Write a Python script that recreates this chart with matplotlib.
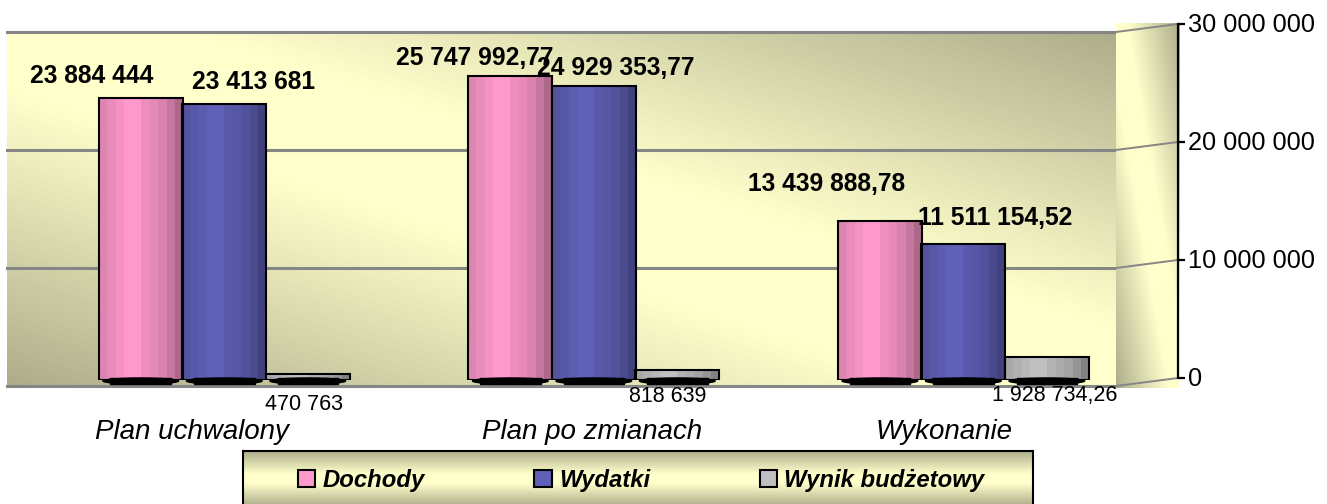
import numpy as np
import matplotlib
matplotlib.use('Agg')
import matplotlib.pyplot as plt
from matplotlib.colors import LinearSegmentedColormap, to_rgb
from matplotlib.patches import ConnectionPatch, Ellipse, Rectangle
from matplotlib.transforms import ScaledTranslation

plt.rcParams['font.family'] = ['Liberation Sans', 'DejaVu Sans']

# dane
kategorie = ['Plan uchwalony', 'Plan po zmianach', 'Wykonanie']
serie = ['Dochody', 'Wydatki', 'Wynik budżetowy']
dochody = [23884444, 25747992.77, 13439888.78]
wydatki = [23413681, 24929353.77, 11511154.52]
wynik = [470763, 818639, 1928734.26]
etykiety_dochody = ['23 884 444', '25 747 992,77', '13 439 888,78']
etykiety_wydatki = ['23 413 681', '24 929 353,77', '11 511 154,52']
etykiety_wynik = ['470 763', '818 639', '1 928 734,26']
ticks = [0, 10000000, 20000000, 30000000]
tick_labels = ['0', '10 000 000', '20 000 000', '30 000 000']

W, H = 1327, 504
kolory = ['#FF99CC', '#6060B8', '#C0C0C0']
JASNY = '#FFFFCC'
CIEMNY = '#ADAD8B'
SIATKA = '#868686'
XMIN, XMAX = -0.5879, 2.4131


def px_axes(l, t, r, b, z=1):
    return fig.add_axes([l / W, 1 - b / H, (r - l) / W, (b - t) / H], zorder=z)


def ukos(n=300):
    # tlo: ciemne w rogach lewy dol / prawy gora, jasne na przekatnej
    u, v = np.meshgrid(np.linspace(0, 1, n), np.linspace(0, 1, n))
    return np.abs(u + v - 1)


fig = plt.figure(figsize=(W / 100, H / 100), dpi=100)
cmap_tlo = LinearSegmentedColormap.from_list('tlo', [(0, JASNY), (0.17, JASNY), (1, CIEMNY)], N=256)
pt = 72 / 100
piksel = fig.dpi_scale_trans

# sciana tylna
ax_tlo = px_axes(7, 32, 1116, 386, 1)
ax_tlo.imshow(ukos(), origin='lower', cmap=cmap_tlo, aspect='auto', vmin=0, vmax=1,
              extent=[XMIN, XMAX, 0, 30000000])
ax_tlo.set_xlim(XMIN, XMAX)
ax_tlo.set_ylim(0, 30000000)
ax_tlo.set_yticks(ticks)
ax_tlo.grid(axis='y', color=SIATKA, lw=2.2)
for lin in ax_tlo.get_ygridlines():
    lin.set_clip_on(False)
ax_tlo.tick_params(length=0, labelleft=False, labelbottom=False)
for s in ax_tlo.spines.values():
    s.set_visible(False)

# sciana boczna i os
ax_bok = px_axes(1116, 23, 1180, 388, 1)
ax_bok.imshow(ukos(), origin='lower', cmap=cmap_tlo, aspect='auto', vmin=0, vmax=1)
ax_bok.axis('off')

ax_os = px_axes(1116, 24, 1178, 378, 2)
ax_os.patch.set_alpha(0)
ax_os.set_xlim(0, 1)
ax_os.set_ylim(0, 30000000)
ax_os.yaxis.tick_right()
ax_os.set_yticks(ticks)
ax_os.set_yticklabels(tick_labels, fontsize=18.3)
ax_os.tick_params(axis='y', length=5, width=1.6, pad=2.2, color='black', direction='out')
ax_os.set_xticks([])
for k in ['left', 'top', 'bottom']:
    ax_os.spines[k].set_visible(False)
ax_os.spines['right'].set_linewidth(1.6)
for lab in ax_os.get_yticklabels():
    lab.set_transform(lab.get_transform() + ScaledTranslation(0, 0.02, piksel))
for t in ticks:
    fig.add_artist(ConnectionPatch((XMAX, t), (1, t), 'data', 'data', axesA=ax_tlo, axesB=ax_os,
                                   color=SIATKA, lw=1.4, zorder=1.5))

# slupki
ax = px_axes(7, 26, 1116, 380, 3)
ax.patch.set_alpha(0)
x = np.arange(len(kategorie))
krok = 0.226
szer = 0.2275
wys_cien = 85000  # 1 px mniej wiecej
profil = np.array([0.87, 0.92, 0.96, 1.0, 1.0, 0.93, 0.9, 0.85, 0.78, 0.68])
for i, (wart, kol) in enumerate(zip([dochody, wydatki, wynik], kolory)):
    pos = x + (i - 1) * krok
    bars = ax.bar(pos, wart, szer, facecolor='none', edgecolor='black', linewidth=1.5, zorder=4)
    rgb = np.array(to_rgb(kol))
    pasy = np.clip(profil[:, None] * rgb, 0, 1)[None, :, :]
    for b in bars:
        ax.imshow(pasy, aspect='auto', interpolation='nearest', zorder=3,
                  extent=[b.get_x(), b.get_x() + b.get_width(), 0, b.get_height()])
    for p in pos:
        # czarny cien u podstawy
        ax.add_patch(Rectangle((p - szer * 0.36, -4 * wys_cien), szer * 0.72, 6 * wys_cien, color='black',
                               zorder=5, clip_on=False))
        ax.add_patch(Ellipse((p, -wys_cien), szer * 0.9, 6 * wys_cien, color='black', zorder=5, clip_on=False))

ax.set_xlim(XMIN, XMAX)
ax.set_ylim(0, 30000000)
for s in ax.spines.values():
    s.set_visible(False)
ax.set_yticks([])
ax.set_xticks(x)
ax.set_xticklabels(kategorie, fontsize=20, style='italic')
ax.tick_params(axis='x', length=0, pad=28)
przes_kat = [-32, -2, -19]
for lab, d in zip(ax.get_xticklabels(), przes_kat):
    lab.set_transform(lab.get_transform() + ScaledTranslation(d / 100, 0, piksel))

# etykiety danych
dx_doch = [-49, -36, -53]
dy_doch = [10, 6, 25]
dx_wyd = [29, 22, 32]
dy_wyd = [10, 6, 14]
dx_wyn = [-4, -10, 8]
y_wyn = [-24, -17, -15]
for i in range(3):
    ax.annotate(etykiety_dochody[i], (x[i] - krok, dochody[i]), xytext=(dx_doch[i] * pt, dy_doch[i] * pt),
                textcoords='offset points', ha='center', va='bottom', fontsize=17.7, fontweight='bold', zorder=6)
    ax.annotate(etykiety_wydatki[i], (x[i], wydatki[i]), xytext=(dx_wyd[i] * pt, dy_wyd[i] * pt),
                textcoords='offset points', ha='center', va='bottom', fontsize=17.7, fontweight='bold', zorder=6)
    ax.annotate(etykiety_wynik[i], (x[i] + krok, 0), xytext=(dx_wyn[i] * pt, y_wyn[i] * pt),
                textcoords='offset points', ha='center', va='center', fontsize=15.5, zorder=6, annotation_clip=False)

# legenda
ax_leg = px_axes(243, 451, 1033, 506, 2)
g = np.abs(np.linspace(-1, 1, 200))[:, None]
ax_leg.imshow(g, cmap=cmap_tlo, aspect='auto', vmin=0, vmax=1)
ax_leg.set_xticks([])
ax_leg.set_yticks([])
for s in ax_leg.spines.values():
    s.set_linewidth(1.5)
uchwyty = [Rectangle((0, 0), 1, 1, facecolor=k, edgecolor='black', linewidth=1.5) for k in kolory]
ax_leg.legend(uchwyty, serie, ncol=3, loc='center', bbox_to_anchor=(0.504, 0.47), frameon=False,
              handlelength=0.72, handleheight=0.75, handletextpad=0.3, columnspacing=4.6,
              prop={'size': 17.2, 'weight': 'bold', 'style': 'italic'})

fig.savefig('out.png', dpi=100)
